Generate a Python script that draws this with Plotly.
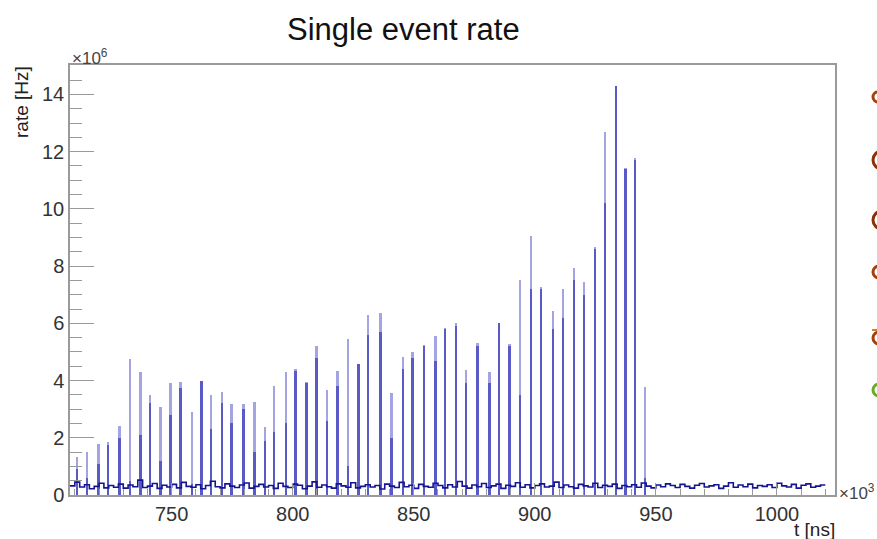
import plotly.graph_objects as go

# ---- data (t in units of 10^3 ns, rate in units of 10^6 Hz) ----
spike_t = [711.0, 715.2, 719.8, 723.7, 728.5, 732.8, 737.2, 741.2, 745.5, 749.6,
           753.7, 758.4, 762.5, 766.4, 770.8, 774.9, 779.8, 784.3, 788.7, 792.4,
           797.3, 801.3, 805.8, 809.9, 814.3, 818.6, 823.0, 827.3, 831.3, 836.4,
           840.9, 845.7, 849.6, 854.3, 859.1, 863.1, 867.6, 871.6, 876.5, 881.3,
           885.4, 889.6, 894.0, 898.5, 902.6, 907.5, 911.8, 916.3, 920.5, 924.9,
           929.1, 933.6, 937.6, 941.5, 945.6]
spike_peak = [1.34, 1.51, 1.78, 1.86, 2.42, 4.74, 4.31, 3.50, 3.09, 3.90,
              3.96, 2.91, 4.00, 3.50, 3.59, 3.18, 3.18, 3.26, 2.39, 3.81,
              4.31, 4.39, 3.96, 5.22, 3.67, 4.34, 5.45, 4.58, 6.29, 6.37,
              3.56, 4.81, 4.99, 5.24, 5.56, 5.83, 6.00, 4.37, 5.30, 4.31,
              6.02, 5.28, 7.52, 9.06, 7.26, 6.44, 7.19, 7.93, 7.44, 8.68,
              12.68, 14.30, 11.44, 11.77, 3.79]
spike_core = [0.90, 0.60, 1.10, 1.75, 2.00, 0.50, 2.10, 3.20, 1.20, 2.80,
              3.75, 0.40, 4.00, 2.30, 3.20, 2.50, 3.00, 1.50, 1.90, 2.20,
              2.50, 4.35, 3.90, 4.80, 2.60, 3.80, 1.00, 4.58, 5.60, 5.70,
              2.00, 4.40, 4.80, 5.20, 4.70, 5.80, 5.90, 3.90, 5.20, 3.90,
              6.00, 5.20, 3.50, 7.20, 7.20, 5.80, 6.20, 7.50, 7.00, 8.60,
              10.22, 14.30, 11.40, 11.70, 0.60]

bin_start = 708.0
bin_width = 2.0
baseline = [
    0.32, 0.45, 0.28, 0.36, 0.22, 0.30, 0.41, 0.25, 0.33, 0.27, 0.38, 0.24, 0.35,
    0.29, 0.52, 0.26, 0.31, 0.40, 0.23, 0.34, 0.28, 0.37, 0.25, 0.44, 0.30, 0.27,
    0.36, 0.22, 0.33, 0.48, 0.29, 0.25, 0.39, 0.31, 0.26, 0.35, 0.42, 0.24, 0.30,
    0.37, 0.28, 0.33, 0.23, 0.41, 0.30, 0.26, 0.38, 0.34, 0.22, 0.31, 0.46, 0.27,
    0.35, 0.29, 0.24, 0.39, 0.32, 0.27, 0.43, 0.25, 0.30, 0.36, 0.28, 0.33, 0.21,
    0.38, 0.31, 0.26, 0.44, 0.29, 0.34, 0.23, 0.37, 0.30, 0.27, 0.41, 0.33, 0.25,
    0.36, 0.28, 0.47, 0.31, 0.24, 0.35, 0.29, 0.40, 0.26, 0.32, 0.38, 0.23, 0.34,
    0.30, 0.43, 0.27, 0.36, 0.25, 0.33, 0.39, 0.28, 0.31, 0.45, 0.26, 0.35, 0.29,
    0.24, 0.37, 0.32, 0.28, 0.41, 0.26, 0.34, 0.30, 0.38, 0.23, 0.33, 0.29, 0.36,
    0.27, 0.42, 0.31, 0.25, 0.35, 0.29, 0.39, 0.33, 0.26, 0.37, 0.30, 0.24, 0.34,
    0.40, 0.28, 0.32, 0.36, 0.23, 0.31, 0.43, 0.27, 0.35, 0.29, 0.38, 0.25, 0.33,
    0.30, 0.36, 0.26, 0.41, 0.32, 0.28, 0.37, 0.24, 0.34, 0.39, 0.27, 0.31, 0.35,
]
y_ticks = [0, 2, 4, 6, 8, 10, 12, 14]
x_ticks = [750, 800, 850, 900, 950, 1000]

# ---- figure ----
W, H = 877, 539
ML, MR, MT, MB = 70, 42, 65, 44
PW, PH = W - ML - MR, H - MT - MB

def px_x(p):
    return (p - ML) / PW

def px_y(p):
    return (H - MB - p) / PH

base_x = [bin_start + i * bin_width for i in range(len(baseline) + 1)]
base_y = baseline + [baseline[-1]]

fig = go.Figure()
fig.add_trace(go.Bar(x=spike_t, y=spike_peak, width=0.8,
                     marker=dict(color="#a4a4e3", line=dict(width=0)),
                     hoverinfo="skip"))
fig.add_trace(go.Bar(x=spike_t, y=spike_core, width=0.8,
                     marker=dict(color="#5a5ac6", line=dict(width=0)),
                     hoverinfo="skip"))
fig.add_trace(go.Scatter(x=base_x, y=base_y, mode="lines",
                         line=dict(color="#14148f", width=1.6, shape="hv"),
                         hoverinfo="skip"))

font = "Liberation Sans, Arial, sans-serif"
axis_col = "#9a9a9a"

fig.update_layout(
    width=W, height=H,
    margin=dict(l=ML, r=MR, t=MT, b=MB),
    paper_bgcolor="white", plot_bgcolor="white",
    showlegend=False, barmode="overlay", bargap=0,
    font=dict(family=font, size=19, color="#222"),
    xaxis=dict(range=[708, 1024], tickvals=x_ticks, ticks="inside",
               ticklen=12, tickcolor=axis_col, showgrid=False, zeroline=False,
               showline=True, linecolor=axis_col, linewidth=1.5, mirror=True,
               tickfont=dict(size=20, color="#333"),
               minor=dict(dtick=10, tick0=750, ticks="inside", ticklen=6,
                          tickcolor=axis_col, showgrid=False)),
    yaxis=dict(range=[0, 15.03], tickvals=y_ticks, ticks="inside",
               ticklen=24, tickcolor=axis_col, showgrid=False, zeroline=False,
               showline=True, linecolor=axis_col, linewidth=1.5, mirror=True,
               tickfont=dict(size=20, color="#333"),
               minor=dict(dtick=0.5, tick0=0, ticks="inside", ticklen=12,
                          tickcolor=axis_col, showgrid=False)),
)

ann = [
    dict(text="Single event rate", x=px_x(403), y=px_y(29), font=dict(size=31, color="#111")),
    dict(text="rate [Hz]", x=px_x(21), y=px_y(102), textangle=-90, font=dict(size=19, color="#222")),
    dict(text="×10<sup>6</sup>", x=px_x(70), y=px_y(57), xanchor="left", font=dict(size=17, color="#444")),
    dict(text="×10<sup>3</sup>", x=px_x(837), y=px_y(492), xanchor="left", font=dict(size=17, color="#444")),
    dict(text="t [ns]", x=px_x(837), y=px_y(529), xanchor="right", font=dict(size=19, color="#222")),
]
for a in ann:
    a.setdefault("xanchor", "center")
    fig.add_annotation(xref="paper", yref="paper", showarrow=False, yanchor="middle", **a)

# partial marks of neighbouring pad at the right edge
marks = [(97, 5, "#a0420a"), (160, 9, "#8a3206"), (220, 9, "#8a3206"),
         (272, 6, "#a0420a"), (338, 6, "#a0420a"), (390, 6, "#6aaa2a")]
for yc, r, col in marks:
    fig.add_shape(type="circle", xref="paper", yref="paper",
                  x0=px_x(873), x1=px_x(873 + 2 * r), y0=px_y(yc + r), y1=px_y(yc - r),
                  line=dict(color=col, width=3), fillcolor="rgba(0,0,0,0)")
fig.add_shape(type="line", xref="paper", yref="paper",
              x0=px_x(872), x1=px_x(877), y0=px_y(330), y1=px_y(330),
              line=dict(color="#d08030", width=2))

fig.write_html("out.html")
